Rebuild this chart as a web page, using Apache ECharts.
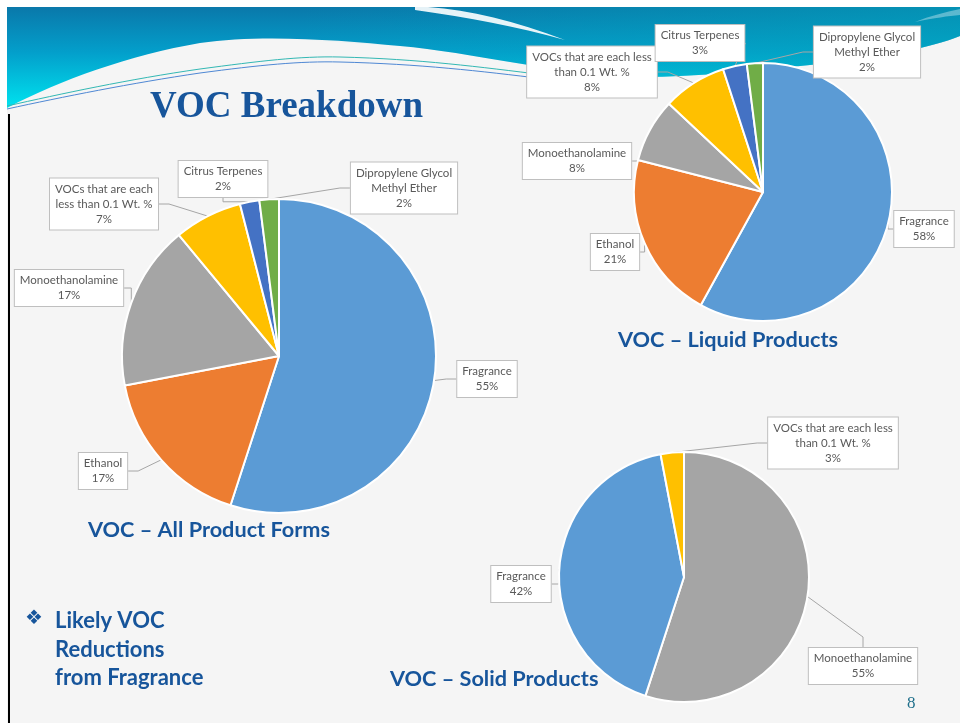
<!DOCTYPE html>
<html>
<head>
<meta charset="utf-8">
<title>VOC Breakdown</title>
<script src="https://cdn.jsdelivr.net/npm/echarts@6/dist/echarts.min.js"></script>
<style>
    html, body { margin: 0; padding: 0; background: #fff; }
    #chart { width: 960px; height: 723px; }
</style>
</head>
<body>
<div id="chart"></div>
<script>
// 数据 - All Product Forms
var allNames = ['Fragrance', 'Ethanol', 'Monoethanolamine', 'VOCs that are each\nless than 0.1 Wt. %', 'Citrus Terpenes', 'Dipropylene Glycol\nMethyl Ether'];
var allValues = [55, 17, 17, 7, 2, 2];
// Liquid Products
var liquidNames = ['Fragrance', 'Ethanol', 'Monoethanolamine', 'VOCs that are each less\nthan 0.1 Wt. %', 'Citrus Terpenes', 'Dipropylene Glycol\nMethyl Ether'];
var liquidValues = [58, 21, 8, 8, 3, 2];
// Solid Products
var solidNames = ['Monoethanolamine', 'Fragrance', 'VOCs that are each less\nthan 0.1 Wt. %'];
var solidValues = [55, 42, 3];

// office 配色
var blue = '#5B9BD5', orange = '#ED7D31', gray = '#A5A5A5', yellow = '#FFC000', navy = '#4472C4', green = '#70AD47';
var allColors = [blue, orange, gray, yellow, navy, green];
var liquidColors = [blue, orange, gray, yellow, navy, green];
var solidColors = [gray, blue, yellow];

// 标签框中心位置 (callout boxes)
var allLabelPos = [[487, 379], [103, 471], [69, 288], [104, 204], [223, 179], [404, 188]];
var liquidLabelPos = [[924, 229], [615, 252], [577, 161], [592, 72], [700, 43], [867, 52]];
var solidLabelPos = [[863, 666], [521, 584], [833, 443]];

var titleBlue = '#17559B';

// 自定义路径形状, 用于背景波浪
echarts.graphic.registerShape('slidePath', echarts.graphic.extendShape({
    shape: { segs: [] },
    buildPath: function (ctx, shape) {
        shape.segs.forEach(function (s) {
            if (s[0] === 'M') ctx.moveTo(s[1], s[2]);
            else if (s[0] === 'L') ctx.lineTo(s[1], s[2]);
            else if (s[0] === 'C') ctx.bezierCurveTo(s[1], s[2], s[3], s[4], s[5], s[6]);
            else if (s[0] === 'Z') ctx.closePath();
        });
    }
}));

function makeData(names, values, colors) {
    return names.map(function (n, i) {
        return { name: n, value: values[i], itemStyle: { color: colors[i] } };
    });
}

function makePie(name, center, r, names, values, colors, labelPos) {
    return {
        name: name,
        type: 'pie',
        center: center,
        radius: [0, r],
        startAngle: 90,
        clockwise: true,
        avoidLabelOverlap: false,
        animation: false,
        itemStyle: { borderColor: '#fff', borderWidth: 2 },
        label: {
            show: true,
            position: 'outside',
            formatter: '{b}\n{c}%',
            color: '#595959',
            fontFamily: 'Lato',
            fontSize: 11.5,
            lineHeight: 15,
            align: 'center',
            backgroundColor: '#fff',
            borderColor: '#bfbfbf',
            borderWidth: 1,
            padding: [3, 5]
        },
        labelLine: {
            show: true,
            length: 10,
            length2: 10,
            lineStyle: { color: '#a6a6a6', width: 1 }
        },
        // 标签位置
        labelLayout: function (p) {
            var pos = labelPos[p.dataIndex];
            return { x: pos[0], y: pos[1], align: 'center', verticalAlign: 'middle' };
        },
        emphasis: { disabled: true },
        data: makeData(names, values, colors)
    };
}

var subTitle = { color: titleBlue, fontFamily: 'Lato', fontWeight: 'bold', fontSize: 21.7 };

var option = {
    backgroundColor: '#fff',
    title: [
        { text: 'VOC Breakdown', left: 150, top: 89, padding: 0,
          textStyle: { color: titleBlue, fontFamily: 'Liberation Serif', fontWeight: 'bold', fontSize: 37, lineHeight: 37 } },
        { text: 'VOC – All Product Forms', left: 88, top: 519, padding: 0, textStyle: subTitle },
        { text: 'VOC – Liquid Products', left: 618, top: 329, padding: 0, textStyle: subTitle },
        { text: 'VOC – Solid Products', left: 390, top: 668, padding: 0, textStyle: subTitle },
        { text: '❖', left: 25, top: 609, padding: 0,
          textStyle: { color: titleBlue, fontFamily: 'DejaVu Sans', fontSize: 20 } },
        { text: 'Likely VOC\nReductions\nfrom Fragrance', left: 55, top: 607, padding: 0,
          textStyle: { color: titleBlue, fontFamily: 'Lato', fontWeight: 'bold', fontSize: 22, lineHeight: 28.5 } },
        { text: '8', left: 907, top: 695, padding: 0,
          textStyle: { color: '#1F6F8B', fontFamily: 'Liberation Serif', fontSize: 17, fontWeight: 'normal' } }
    ],
    graphic: {
        elements: [
            // 幻灯片底色
            { type: 'rect', shape: { x: 7, y: 7, width: 953, height: 716 }, style: { fill: '#f5f5f5' }, silent: true },
            // 顶部蓝色波浪
            {
                type: 'slidePath',
                shape: { segs: [['M', 7, 7], ['L', 960, 7], ['L', 960, 36], ['C', 930, 48, 880, 58, 820, 64],
                    ['C', 760, 70, 700, 77, 640, 77], ['C', 560, 75, 470, 52, 400, 46],
                    ['C', 340, 40, 260, 34, 200, 43], ['C', 130, 55, 60, 80, 7, 108], ['Z']] },
                style: {
                    fill: {
                        type: 'linear', x: 0, y: 0, x2: 0, y2: 1,
                        colorStops: [
                            { offset: 0, color: '#0a78aa' },
                            { offset: 0.45, color: '#039fcb' },
                            { offset: 1, color: '#00e3ef' }
                        ]
                    }
                },
                silent: true
            },
            // 右上偏青色
            {
                type: 'slidePath',
                shape: { segs: [['M', 300, 7], ['L', 960, 7], ['L', 960, 36], ['C', 930, 48, 880, 58, 820, 64],
                    ['C', 760, 70, 700, 77, 640, 77], ['C', 560, 75, 470, 52, 400, 46], ['L', 300, 40], ['Z']] },
                style: {
                    fill: {
                        type: 'linear', x: 0, y: 0, x2: 1, y2: 0,
                        colorStops: [
                            { offset: 0, color: 'rgba(0,170,190,0)' },
                            { offset: 1, color: 'rgba(0,170,190,0.5)' }
                        ]
                    }
                },
                silent: true
            },
            // 白色条纹
            {
                type: 'slidePath',
                shape: { segs: [['M', 428, 7], ['C', 470, 10, 515, 21, 565, 40], ['C', 515, 26, 470, 18, 415, 10], ['L', 415, 7], ['Z']] },
                style: { fill: 'rgba(255,255,255,0.9)' },
                silent: true
            },
            {
                type: 'slidePath',
                shape: { segs: [['M', 960, 9], ['C', 945, 12, 930, 16, 915, 22], ['C', 935, 18, 948, 16, 960, 15], ['Z']] },
                style: { fill: 'rgba(255,255,255,0.35)' },
                silent: true
            },
            // 细线
            {
                type: 'slidePath',
                shape: { segs: [['M', 7, 106], ['C', 60, 94, 130, 79, 200, 69], ['C', 260, 61, 300, 56, 340, 57], ['C', 420, 59, 480, 67, 545, 75]] },
                style: { fill: null, stroke: '#33b8b4', lineWidth: 1 },
                silent: true
            },
            {
                type: 'slidePath',
                shape: { segs: [['M', 7, 109], ['C', 62, 97, 132, 83, 200, 73], ['C', 260, 65, 300, 61, 340, 62], ['C', 420, 64, 480, 71, 545, 79]] },
                style: { fill: null, stroke: '#4f88d4', lineWidth: 1 },
                silent: true
            },
            // 左侧黑线
            { type: 'rect', shape: { x: 8, y: 114, width: 2, height: 609 }, style: { fill: '#000' }, silent: true }
        ]
    },
    series: [
        makePie('VOC – All Product Forms', [279, 356], 157, allNames, allValues, allColors, allLabelPos),
        makePie('VOC – Liquid Products', [763, 192], 129, liquidNames, liquidValues, liquidColors, liquidLabelPos),
        makePie('VOC – Solid Products', [684, 577], 125, solidNames, solidValues, solidColors, solidLabelPos)
    ]
};

var myChart = echarts.init(document.getElementById('chart'));
myChart.setOption(option);
window.addEventListener('resize', function () {
    myChart.resize();
});
</script>
</body>
</html>
